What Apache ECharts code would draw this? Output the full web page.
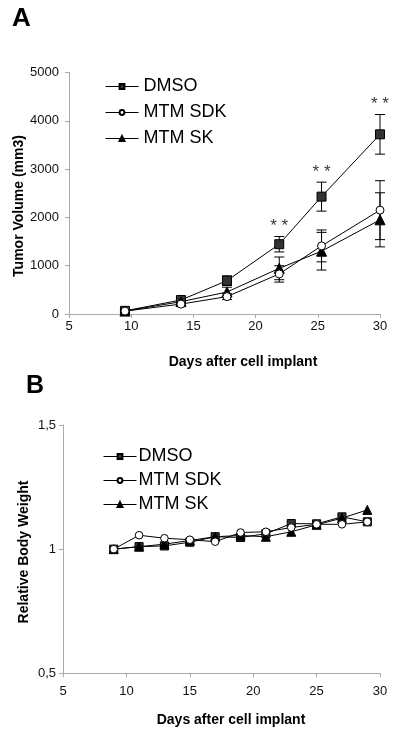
<!DOCTYPE html>
<html>
<head>
<meta charset="utf-8">
<script src="https://cdn.jsdelivr.net/npm/echarts@6/dist/echarts.min.js"></script>
<style>html,body{margin:0;padding:0;background:#fff;}#c{width:400px;height:734px;}</style>
</head>
<body>
<div id="c"></div>
<script>
// Panel A: tumor volume
const daysA = [9.5, 14, 17.7, 21.9, 25.3, 30];
const dmsoA = [65, 290, 690, 1445, 2430, 3720];
const dmsoErrA = [30, 40, 100, 160, 300, 410];
const sdkA = [60, 205, 360, 830, 1410, 2150];
const sdkErrA = [20, 30, 60, 170, 330, 610];
const skA = [60, 255, 455, 945, 1300, 1950];
const skErrA = [20, 40, 100, 235, 390, 560];
const sigIdxA = [3, 4, 5];
const sigLabel = '* *';
const yTicksA = [0, 1000, 2000, 3000, 4000, 5000];
// Panel B: relative body weight
const daysB = [9, 11, 13, 15, 17, 19, 21, 23, 25, 27, 29];
const dmsoB = [1.0, 1.01, 1.013, 1.028, 1.05, 1.047, 1.062, 1.103, 1.102, 1.13, 1.11];
const sdkB = [1.0, 1.056, 1.044, 1.038, 1.03, 1.067, 1.07, 1.087, 1.1, 1.1, 1.11];
const skB = [1.0, 1.01, 1.02, 1.035, 1.05, 1.055, 1.05, 1.07, 1.098, 1.125, 1.158];
const yTicksB = [0.5, 1, 1.5];
const xTicks = [5, 10, 15, 20, 25, 30];
const names = ['DMSO', 'MTM SDK', 'MTM SK'];

const FONT = "'Liberation Sans', Arial, sans-serif";
const styles = {
  'DMSO': {symbol: 'rect', size: 9, fill: '#333', border: '#000'},
  'MTM SDK': {symbol: 'circle', size: 8, fill: '#fff', border: '#000'},
  'MTM SK': {symbol: 'triangle', size: 10, fill: '#000', border: '#000'}
};

function lineSeries(name, xs, ys, gi, scale) {
  const s = styles[name];
  return {
    type: 'line', name: name, xAxisIndex: gi, yAxisIndex: gi,
    data: xs.map((x, i) => [x, ys[i]]),
    symbol: s.symbol, symbolSize: s.size * scale, showAllSymbol: true,
    lineStyle: {color: '#000', width: 1},
    itemStyle: {color: s.fill, borderColor: s.border, borderWidth: 1},
    emphasis: {disabled: true}, animation: false, z: 3
  };
}
function errSeries(xs, ys, es) {
  return {
    type: 'custom', xAxisIndex: 0, yAxisIndex: 0,
    data: xs.map((x, i) => [x, ys[i], es[i]]),
    renderItem: function (params, api) {
      const x = api.value(0), y = api.value(1), e = api.value(2);
      const t = api.coord([x, y + e]), b = api.coord([x, y - e]);
      const w = 5;
      const st = {stroke: '#000', lineWidth: 1};
      return {type: 'group', children: [
        {type: 'line', shape: {x1: t[0], y1: t[1], x2: b[0], y2: b[1]}, style: st},
        {type: 'line', shape: {x1: t[0] - w, y1: t[1], x2: t[0] + w, y2: t[1]}, style: st},
        {type: 'line', shape: {x1: b[0] - w, y1: b[1], x2: b[0] + w, y2: b[1]}, style: st}
      ]};
    },
    animation: false, z: 2, silent: true
  };
}
function xAxis(gi, margin) {
  return {
    type: 'value', gridIndex: gi, min: 5, max: 30, interval: 5,
    axisLine: {show: true, onZero: false, lineStyle: {color: '#aaa', width: 1}},
    axisTick: {show: true, length: 4, lineStyle: {color: '#aaa'}},
    splitLine: {show: false},
    axisLabel: {color: '#111', fontFamily: FONT, fontSize: 13, margin: margin}
  };
}
function legend(left, top, gap, textPad) {
  return {orient: 'vertical', left: left, top: top, padding: 0, itemWidth: 33, itemHeight: 6, itemGap: gap,
    data: names, selectedMode: false, lineStyle: {width: 1},
    textStyle: {fontFamily: FONT, fontSize: 18, color: '#000', lineHeight: 19, padding: [0, 0, 0, textPad]}};
}

const chart = echarts.init(document.getElementById('c'), null, {renderer: 'canvas'});
const option = {
  backgroundColor: '#fff',
  animation: false,
  grid: [
    {left: 69, right: 20, top: 72.5, bottom: 420},
    {left: 63, right: 20, top: 425, bottom: 60.7}
  ],
  xAxis: [xAxis(0, 6), xAxis(1, 12)],
  yAxis: [
    {type: 'value', gridIndex: 0, min: yTicksA[0], max: yTicksA[yTicksA.length - 1], interval: 1000,
     axisLine: {show: true, lineStyle: {color: '#aaa'}},
     axisTick: {show: true, length: 4, lineStyle: {color: '#aaa'}},
     splitLine: {show: false},
     axisLabel: {color: '#111', fontFamily: FONT, fontSize: 13, margin: 10, formatter: v => String(v)}},
    {type: 'value', gridIndex: 1, min: yTicksB[0], max: yTicksB[yTicksB.length - 1], interval: 0.5,
     axisLine: {show: true, lineStyle: {color: '#aaa'}},
     axisTick: {show: true, length: 4, lineStyle: {color: '#aaa'}},
     splitLine: {show: false},
     axisLabel: {color: '#111', fontFamily: FONT, fontSize: 13, margin: 7,
       formatter: v => String(v).replace('.', ',')}}
  ],
  legend: [legend(105, 77, 7, 0), legend(103, 447, 5, -3)],
  series: [
    errSeries(daysA, dmsoA, dmsoErrA),
    errSeries(daysA, sdkA, sdkErrA),
    errSeries(daysA, skA, skErrA),
    lineSeries('DMSO', daysA, dmsoA, 0, 1),
    lineSeries('MTM SK', daysA, skA, 0, 1),
    lineSeries('MTM SDK', daysA, sdkA, 0, 1),
    {
      type: 'scatter', xAxisIndex: 0, yAxisIndex: 0, symbol: 'circle', symbolSize: 1, silent: true,
      itemStyle: {color: 'rgba(0,0,0,0)'},
      data: sigIdxA.map(i => [daysA[i], dmsoA[i] + dmsoErrA[i]]),
      label: {show: true, position: 'top', distance: 1, formatter: sigLabel,
        fontFamily: FONT, fontSize: 17, color: '#000'},
      animation: false, z: 5
    },
    lineSeries('DMSO', daysB, dmsoB, 1, 0.9),
    lineSeries('MTM SK', daysB, skB, 1, 0.9),
    lineSeries('MTM SDK', daysB, sdkB, 1, 0.95)
  ],
  graphic: [
    {type: 'text', left: 12, top: 6, style: {text: 'A', font: "bold 26px " + FONT, fill: '#000'}},
    {type: 'text', left: 26, top: 374, style: {text: 'B', font: "bold 25px " + FONT, fill: '#000'}},
    {type: 'text', x: 243, y: 362, style: {text: 'Days after cell implant', font: "bold 14px " + FONT, fill: '#000', align: 'center', verticalAlign: 'middle'}},
    {type: 'text', x: 231, y: 720, style: {text: 'Days after cell implant', font: "bold 14px " + FONT, fill: '#000', align: 'center', verticalAlign: 'middle'}},
    {type: 'text', x: 19, y: 206, rotation: Math.PI / 2, style: {text: 'Tumor Volume (mm3)', font: "bold 14px " + FONT, fill: '#000', align: 'center', verticalAlign: 'middle'}},
    {type: 'text', x: 24, y: 552, rotation: Math.PI / 2, style: {text: 'Relative Body Weight', font: "bold 14px " + FONT, fill: '#000', align: 'center', verticalAlign: 'middle'}}
  ]
};
chart.setOption(option);
</script>
</body>
</html>
